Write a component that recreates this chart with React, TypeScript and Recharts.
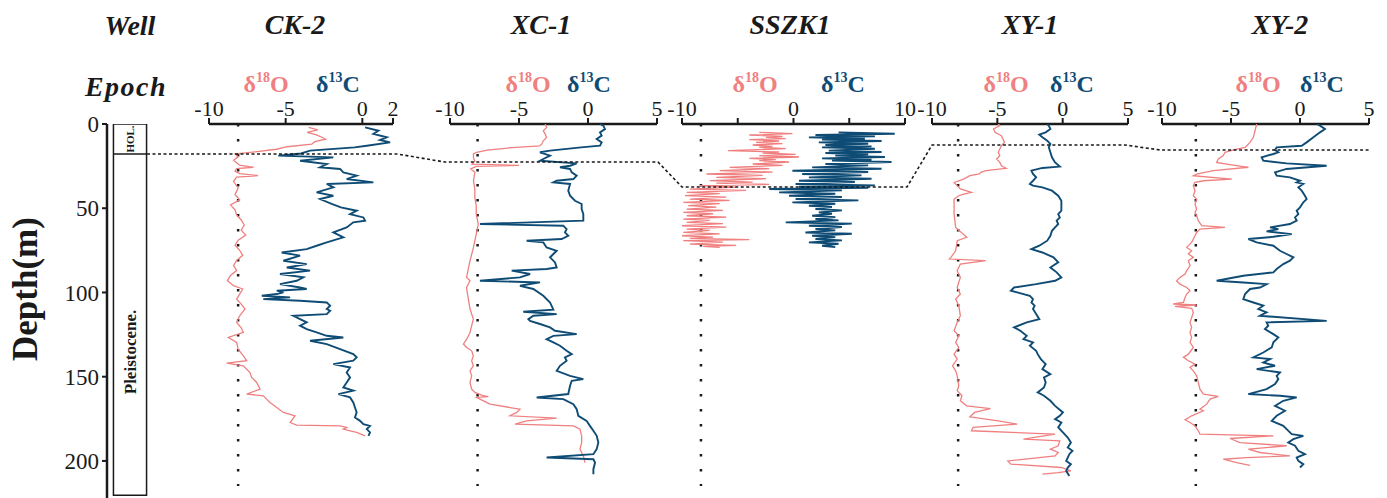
import React from "react";
import { ScatterChart, Scatter, XAxis, YAxis, ReferenceLine } from "recharts";

type Pt = [number, number]; // [depth (m), value (‰)]

const PINK = "#f08080";
const BLUE = "#0f4c75";
const INK = "#1a1a1a";
const FONT = "'Liberation Serif', 'Times New Roman', serif";

const W = 1387;
const H = 498;
const TOP = 124; // y of depth 0
const BOTTOM = 486; // y of depth MAX_DEPTH
const MAX_DEPTH = 215;
const AXIS_MAX_DEPTH = 222;

const WELLS = ["CK-2", "XC-1", "SSZK1", "XY-1", "XY-2"];
const DEPTH_TICKS = [0, 50, 100, 150, 200];
// Holocene / Pleistocene boundary depth in each well
const BOUNDARY = [17.8, 22.6, 37.4, 12.5, 15.4];
// epoch column: top, HOL./Pleistocene. contact, base (m)
const EPOCH_DEPTHS = [0, 17.8, 220.3];
// dotted reference value on the δ18O scale
const REF_O = [-8.1, -8, -8.3, -8, -7.55];

const CK2_O: Pt[] = [
  [2, -3.5], [3.5, -2.9], [5, -3.6], [6.5, -3.0], [8, -2.6], [9, -2.4], [10.5, -3.1], [12, -3.3],
  [13.5, -4.9], [15, -5.6], [16.5, -7.0], [17.8, -8.3], [19.5, -8.1], [21.5, -8.4], [23, -8.2],
  [24.5, -8.0], [25.7, -7.1], [26.5, -8.2], [28, -8.3], [29.5, -8.0], [30.7, -6.8], [31.5, -8.2],
  [34, -8.4], [38, -8.1], [42, -8.3], [45, -8.0], [48, -8.6], [51, -8.3], [54, -8.2], [57, -7.9],
  [60, -7.7], [63, -7.9], [66, -7.6], [69, -8.1], [72, -8.3], [75, -8.0], [78, -7.8], [81, -8.2],
  [84, -8.4], [87, -8.2], [90, -8.6], [93, -8.8], [96, -8.4], [98, -7.8], [101, -8.0], [104, -8.2],
  [107, -7.9], [109.9, -7.65], [113.9, -8.0], [117.8, -8.2], [121, -7.9], [123.8, -7.76],
  [126.8, -8.74], [129.7, -8.2], [133.7, -8.1], [137.7, -7.76], [140.6, -7.54], [142, -8.85],
  [143.6, -7.76], [147.6, -7.33], [150.5, -7.22], [153.5, -6.89], [157.5, -6.67], [160.4, -7.54],
  [161.4, -6.46], [163.4, -6.24], [165.4, -6.02], [168.4, -5.58], [171.3, -5.15], [173.3, -4.39],
  [177.3, -4.71], [178.9, -4.28], [179.3, -1.45], [180.2, -1.02], [181.2, -1.24], [182.2, -0.8],
  [183.2, -0.37], [185.2, 0.18],
];

const CK2_C: Pt[] = [
  [2, 0.18], [4, 1.05], [5.9, 0.72], [7.9, 1.59], [9.5, 1.15], [10.9, 1.81], [12.9, 0.29],
  [13.9, -0.5], [15.8, -3.41], [17.5, -4.0], [18.8, -5.48], [19.8, -1.89], [21.8, -4.06],
  [23.8, -2.32], [25.7, -2.76], [26.7, -1.45], [28.7, -1.24], [30.7, -0.37], [32.7, -1.02],
  [34.7, 0.72], [35.6, -2.32], [37.6, -1.89], [40.6, -2.98], [42.6, -1.89], [44.6, -2.76],
  [47.5, -2.0], [49.5, -1.4], [51.5, -0.37], [53.5, -0.8], [55.5, 0.07], [57.4, 0.18],
  [58.4, -0.59], [61.4, -1.02], [64.4, -1.89], [67.3, -1.24], [70.3, -2.32], [72.3, -2.98],
  [74.3, -3.63], [76.3, -5.26], [78.2, -4.06], [81.2, -5.15], [83.2, -3.63], [85.2, -4.93],
  [87.1, -3.41], [89.1, -5.37], [91.1, -3.85], [93.1, -4.28], [95.1, -5.37], [97.1, -4.06],
  [98, -3.63], [99, -5.58], [100, -5.15], [101, -5.58], [102, -6.56], [103, -4.71], [104, -6.46],
  [105, -4.06], [106, -2.32], [107.9, -2.1], [109.9, -2.32], [110.9, -2.1], [112.9, -2.32],
  [113.9, -4.5], [115.9, -4.06], [117.8, -3.63], [119.8, -4.06], [121.8, -3.63], [123.8, -2.98],
  [125.8, -2.32], [126.8, -1.24], [128.7, -3.41], [130.7, -2.32], [133.7, -1.45], [136.7, -0.59],
  [138.6, -0.37], [140.6, -0.59], [142.6, -1.89], [144.6, -0.8], [147.6, -1.02], [150.5, -0.8],
  [153.5, -1.02], [156.5, -1.24], [158.4, -0.59], [160.4, -1.56], [162.4, -0.8], [165.4, -0.59],
  [168.4, -0.48], [171.3, -0.37], [174.3, -0.48], [176.3, -0.15], [178.3, 0.07], [179.3, 0.5],
  [181.2, 0.29], [183.2, 0.5], [185.2, 0.4],
];

const XC1_O: Pt[] = [
  [0, -3.1], [2, -3.0], [4, -3.24], [6, -3.1], [8, -3.0], [10, -3.24], [12, -3.36], [13, -3.5],
  [14, -5.5], [15.5, -7.3], [16.8, -8.07], [17.8, -8.3], [20, -8.3], [22, -8.2], [23.8, -8.4],
  [24.6, -5.0], [25.2, -8.1], [26.7, -8.5], [28.7, -8.2], [33.7, -8.3], [38.6, -8.2], [43.6, -8.2],
  [48.5, -8.1], [53.5, -8.1], [59.4, -7.95], [65.4, -8.1], [73.3, -8.3], [81.2, -8.55],
  [87.1, -8.7], [91.1, -8.8], [93.1, -8.55], [97.1, -8.8], [98, -8.79], [104, -8.67],
  [109.9, -8.55], [115.9, -8.31], [119.8, -8.43], [123.8, -8.55], [127.8, -8.79], [130.7, -9.03],
  [132.7, -8.79], [134.7, -8.43], [137.7, -8.31], [140.6, -8.43], [143.6, -8.31], [146.6, -8.55],
  [149.6, -8.43], [153.5, -8.55], [157.5, -8.43], [159.4, -8.19], [161.4, -7.58], [161.9, -7.22],
  [162.4, -8.07], [164.4, -7.58], [166.4, -7.1], [168.4, -5.65], [169.4, -4.93], [171.3, -5.17],
  [173.3, -5.65], [174.7, -2.27], [176.3, -4.45], [178.3, -5.29], [179.3, -1.06], [181.2, -0.58],
  [185.2, -0.46], [189.2, -0.46], [193.1, -0.58], [197.1, -0.34], [201.1, -0.22],
];

const XC1_C: Pt[] = [
  [0, 0.87], [1, 1.11], [3, 1.23], [4.95, 0.87], [6.9, 0.99], [8.9, 0.63], [10.9, 0.99],
  [12.9, 0.87], [13.9, -0.5], [15.8, -2.75], [16.8, -3.48], [18.8, -2.75], [20.8, -3.24],
  [21.8, -3.48], [23.4, -0.82], [24.8, -1.3], [25.7, -2.03], [26.7, -1.3], [28.7, -1.18],
  [30.7, -0.82], [32.7, -1.06], [33.7, -2.27], [34.7, -2.51], [35.6, -1.3], [39.6, -1.43],
  [42.6, -1.3], [45.6, -0.94], [47.5, -0.46], [50.5, -0.46], [53.5, -0.34], [57.4, -0.34],
  [59.4, -7.83], [60.4, -1.79], [62.4, -1.55], [64.4, -1.67], [66.4, -1.43], [68.3, -1.91],
  [69.3, -4.45], [70.3, -3.24], [73.3, -3.0], [75.3, -2.27], [77.2, -2.51], [79.2, -2.75],
  [82.2, -2.39], [85.2, -2.27], [86.1, -3.0], [87.1, -5.53], [89.1, -4.2], [91.1, -4.93],
  [93.1, -7.83], [94.1, -3.48], [96.1, -4.93], [98, -3.96], [102, -3.24], [106, -2.75],
  [110.3, -2.51], [111.5, -4.69], [112.9, -2.27], [113.9, -3.96], [115.9, -4.32], [116.9, -4.2],
  [118.8, -3.48], [120.8, -2.75], [122.8, -2.39], [124.8, -0.82], [125.8, -2.51], [127.8, -3.0],
  [129.7, -2.51], [131.7, -2.03], [134.7, -1.55], [136.7, -1.18], [138.6, -1.67], [140.6, -1.55],
  [143.6, -2.03], [146.6, -2.27], [149.6, -1.3], [151.5, -0.34], [152.5, -1.18], [155.5, -1.3],
  [160.4, -1.43], [162.4, -3.72], [163.4, -1.79], [166.4, -1.06], [169.4, -0.82], [173.3, -0.7],
  [176.3, -0.1], [179.3, 0.14], [182.2, 0.39], [185.2, 0.63], [189.2, 0.75], [193.1, 0.63],
  [196.1, 0.39], [198.1, -3.0], [199.1, 0.39], [201.1, 0.51], [205, 0.39], [208, 0.39],
];

const SSZK_O: Pt[] = [
  [4.95, -3.07], [5.75, -0.1], [6.53, -3.96], [7.33, -0.99], [7.92, -2.47], [8.72, -0.7],
  [9.31, -3.96], [10.1, -1.29], [10.89, -3.36], [11.69, -0.99], [12.48, -3.66], [13.28, -1.88],
  [13.86, -3.07], [14.66, -0.7], [15.84, -5.88], [16.64, -1.29], [17.23, -2.77], [18.03, 0.19],
  [18.81, -3.07], [19.61, 0.49], [20.4, -3.96], [21.2, -1.59], [21.78, -3.07], [22.58, -0.4],
  [23.76, -3.66], [24.56, -0.99], [25.74, -5.73], [26.54, -2.18], [27.73, -6.62], [28.53, -1.88],
  [29.71, -7.81], [30.51, -2.77], [31.69, -6.92], [32.49, -2.47], [33.67, -7.51], [34.47, -3.66],
  [35.06, -6.92], [35.86, -2.18], [36.64, -8.4], [37.44, -5.14], [38.62, -9.29], [39.42, -4.25],
  [40.6, -9.58], [41.4, -6.62], [42.58, -9.73], [43.38, -6.03], [44.56, -9.29], [45.36, -5.73],
  [46.55, -9.88], [47.35, -6.62], [48.53, -9.44], [49.33, -6.92], [50.5, -9.58], [51.3, -6.33],
  [52.5, -9.88], [53.3, -7.21], [54.5, -9.58], [55.3, -6.03], [56.45, -9.88], [57.25, -7.51],
  [58.4, -9.58], [59.2, -6.33], [60.4, -10.18], [61.2, -6.03], [62.4, -9.58], [63.2, -7.51],
  [64.4, -9.88], [65.2, -6.62], [66.4, -10.33], [67.2, -7.21], [67.9, -9.29], [68.7, -3.96],
  [69.3, -9.88], [70.1, -6.33], [71.3, -9.29], [72.1, -5.14], [72.7, -8.1], [73.3, -6.62],
];

const SSZK_C: Pt[] = [
  [4.95, 4.04], [5.75, 9.08], [6.53, 1.97], [7.33, 7.3], [7.92, 1.38], [8.72, 6.4],
  [9.31, 2.56], [10.1, 7.9], [10.89, 2.27], [11.69, 6.7], [12.48, 2.86], [13.28, 7.0],
  [13.86, 2.56], [14.66, 7.3], [15.84, 3.16], [16.64, 7.9], [17.23, 2.86], [18.03, 6.7],
  [18.81, 3.75], [19.61, 8.2], [20.4, 2.56], [21.2, 7.0], [21.78, 3.45], [22.58, 8.79],
  [23.76, 2.86], [24.56, 6.7], [25.74, 1.67], [26.54, 7.9], [27.73, -0.1], [28.53, 6.7],
  [29.71, 0.78], [30.51, 6.1], [31.69, 1.38], [32.49, 7.0], [33.67, 0.49], [34.47, 5.5],
  [35.65, 0.19], [36.45, 7.3], [37.23, 0.49], [37.9, 6.7], [38.62, -2.18], [39.42, 4.34],
  [40.6, -1.29], [41.4, 3.75], [42.58, -0.4], [43.38, 4.34], [44.56, 0.19], [45.36, 5.82],
  [46.55, -0.1], [47.35, 3.75], [48.53, 1.38], [49.33, 3.45], [50.5, 1.97], [51.3, 4.34],
  [52.5, 2.27], [53.3, 3.45], [54.5, 1.67], [55.3, 3.75], [56.45, 1.97], [57.25, 4.04],
  [58.4, -0.7], [59.2, 5.23], [60.4, 1.38], [61.2, 4.34], [62.4, 1.97], [63.2, 3.75],
  [64.4, 1.07], [65.2, 5.23], [66.4, 1.67], [67.2, 3.75], [68.3, 1.97], [69.1, 4.34],
  [70.3, 1.38], [71.1, 4.04], [72.3, 2.56], [73.1, 3.75],
];

const XY1_O: Pt[] = [
  [0, -4.93], [1, -4.81], [3, -5.29], [4.95, -5.17], [6.9, -4.69], [8.9, -4.57], [10.9, -4.45],
  [12.9, -4.69], [14.9, -4.81], [16.8, -4.93], [18.8, -4.81], [20.8, -5.05], [22.8, -4.81],
  [24.8, -4.69], [26.3, -4.32], [27.7, -5.89], [28.7, -6.26], [29.7, -6.38], [30.7, -7.1],
  [32.7, -7.58], [34.7, -8.31], [36.6, -8.07], [38.6, -7.83], [40.6, -6.98], [41.6, -7.58],
  [42.6, -7.95], [44.6, -8.31], [53.5, -8.31], [61.4, -8.19], [67.3, -7.34], [69.3, -8.07],
  [75.3, -8.19], [79.2, -8.55], [80.2, -8.67], [81.2, -5.89], [83.2, -7.83], [87.1, -8.07],
  [91.1, -7.83], [97.1, -8.07], [101, -7.83], [104, -8.19], [107.9, -7.95], [113.9, -7.83],
  [117.8, -8.07], [122.8, -8.31], [125.8, -7.95], [129.7, -8.19], [132.7, -7.95], [136.7, -8.31],
  [139.6, -8.07], [143.6, -8.43], [146.6, -8.19], [149.6, -8.07], [155.5, -7.95], [158.4, -8.07],
  [161.4, -7.71], [164.4, -7.83], [167.4, -7.34], [169, -5.53], [171.3, -6.74], [173.9, -7.1],
  [176.3, -4.93], [178.3, -3.48], [180.2, -6.86], [182.2, -6.98], [184.2, -0.58], [187.2, -3.0],
  [188.2, -0.22], [191.1, -0.34], [193.1, -0.94], [195.1, -0.34], [197.1, -0.58], [200.1, -4.2],
  [202, -3.96], [204, -0.1], [206, 0.63], [207, -0.34], [208, -1.55],
];

const XY1_C: Pt[] = [
  [0, -1.18], [1, -1.06], [3, -0.94], [4.95, -1.3], [6.3, -1.79], [7.9, -1.55], [9.9, -1.18],
  [11.9, -0.94], [13.9, -1.06], [16.8, -0.94], [19.8, -0.82], [22.8, -0.58], [25.3, -0.22],
  [26.1, -1.55], [27.7, -2.39], [29.7, -2.27], [31.7, -2.03], [33.7, -2.27], [35.6, -2.51],
  [36.6, -2.27], [37.6, -1.55], [39.6, -0.82], [42.6, -0.34], [45.6, -0.1], [51.5, -0.1],
  [53.5, -0.34], [55.5, -0.22], [57.4, -0.46], [59.4, -0.34], [61.4, -0.58], [63.4, -0.82],
  [66.4, -0.94], [69.3, -1.18], [72.3, -1.79], [74.3, -2.39], [76.3, -1.55], [79.2, -0.7],
  [82.2, -0.34], [85.2, -0.94], [88.1, -0.46], [91.1, -0.1], [93.1, -0.58], [95.1, -2.03],
  [97.1, -3.72], [99, -3.96], [100, -3.48], [102, -2.51], [104, -2.27], [106, -2.39],
  [107.9, -2.15], [109.9, -2.27], [112.9, -2.03], [115.9, -1.79], [117.8, -2.75], [120.8, -3.72],
  [122.8, -3.24], [125.8, -2.75], [127.8, -3.0], [129.7, -2.27], [131.7, -2.51], [134.7, -2.03],
  [136.7, -1.91], [139.6, -1.67], [142.6, -1.3], [145.6, -1.55], [148.6, -0.94], [150.5, -1.43],
  [153.5, -1.3], [156.5, -1.43], [159.4, -1.91], [161.4, -1.43], [164.4, -0.94], [167.4, -0.58],
  [171.3, 0.02], [173.3, -0.22], [175.3, -0.58], [177.3, -0.1], [180.2, -0.34], [183.2, 0.02],
  [186.2, 0.39], [189.2, 0.63], [192.1, 0.39], [194.1, 0.75], [196.1, 0.51], [198.1, 0.39],
  [200.1, 0.27], [202, 0.63], [204, 0.39], [206, 0.27], [209, 0.51],
];

const XY2_O: Pt[] = [
  [0, -3.14], [4, -3.26], [7.9, -3.38], [10.9, -3.62], [12.9, -3.86], [13.9, -3.98], [15.4, -4.83],
  [16.8, -5.43], [18.8, -5.56], [20.8, -5.92], [22.8, -6.04], [23.8, -5.31], [25.7, -3.74],
  [27.7, -6.28], [29.7, -7.49], [30.7, -7.73], [32.7, -4.95], [33.7, -7.0], [34.7, -7.61],
  [36.6, -7.73], [39.6, -7.61], [42.6, -7.73], [44.6, -7.49], [47.5, -7.61], [50.5, -7.49],
  [52.5, -7.61], [54.5, -7.49], [57.4, -7.37], [60.4, -7.13], [61.4, -5.43], [62.4, -7.25],
  [64.4, -7.49], [66.4, -7.61], [68.3, -7.73], [70.3, -7.85], [73.3, -8.21], [75.3, -7.85],
  [77.2, -8.09], [79.2, -7.73], [81.2, -8.09], [84.2, -7.97], [87.1, -8.21], [89.1, -8.33],
  [91.1, -8.7], [93.1, -8.94], [95.1, -8.7], [97.1, -8.21], [99, -7.97], [101, -8.21],
  [103, -8.33], [106, -8.45], [106.9, -9.18], [107.5, -7.49], [108.3, -9.06], [109.5, -7.85],
  [111.9, -7.73], [114.9, -7.85], [117.8, -7.97], [120.8, -7.85], [123.8, -7.97], [126.8, -7.85],
  [129.7, -7.97], [132.7, -7.73], [136.7, -8.09], [138.6, -8.45], [140.6, -8.09], [142.6, -7.61],
  [144.6, -7.97], [146.6, -7.73], [149.6, -7.49], [153.5, -7.37], [157.5, -7.25], [160.4, -7.0],
  [161.8, -5.92], [163.4, -6.52], [166.4, -6.76], [169.4, -7.25], [170.3, -7.0], [173.3, -7.85],
  [175.7, -8.33], [177.3, -7.97], [179.3, -7.61], [182.2, -7.37], [184.2, -7.25], [185.2, -1.93],
  [186.8, -5.07], [189.2, -4.35], [191.1, -0.97], [193.1, -3.74], [195.1, -2.9], [197.1, -0.73],
  [198.1, -3.86], [199.1, -5.56], [201.1, -4.59], [202.7, -3.62],
];

const XY2_C: Pt[] = [
  [0, 1.21], [1, 1.45], [3, 1.81], [4.95, 1.45], [7.9, 0.97], [10.9, 0.48], [12.9, 0.12],
  [13.9, -1.69], [15.4, -1.81], [16.8, -1.57], [17.8, -1.93], [19.8, -2.78], [21.8, -2.66],
  [23.4, -0.97], [24.8, 1.93], [26.7, -0.97], [28.7, -1.81], [30.7, -1.69], [31.7, -0.73],
  [33.7, 0.0], [34.7, -0.24], [35.6, 0.24], [37.6, -0.12], [39.6, 0.12], [42.6, 0.36],
  [44.6, 0.48], [46.5, 0.24], [49.5, 0.0], [51.5, -0.24], [53.5, -0.12], [55.5, -0.36],
  [57.4, -0.24], [59.4, -0.73], [61.4, -2.17], [62.4, -1.57], [63.8, -2.42], [65.4, -0.6],
  [67, -1.93], [68.3, -3.74], [70.3, -3.14], [72.3, -1.93], [75.3, -1.45], [77.2, -0.97],
  [79.2, -0.48], [81.2, -0.73], [83.2, -1.21], [86.1, -1.69], [88.1, -1.93], [90.1, -4.11],
  [93.1, -6.04], [94.1, -4.11], [95.1, -2.42], [97.1, -2.9], [98, -3.62], [101, -3.98],
  [104, -4.11], [106, -3.38], [107.9, -2.66], [109.9, -3.02], [111.9, -2.42], [113.9, -2.9],
  [116.9, 1.93], [117.8, -2.42], [119.8, -2.3], [121.8, -2.54], [124.8, -1.93], [126.8, -1.57],
  [129.7, -1.93], [132.7, -2.05], [135.7, -2.66], [138.6, -3.38], [139.6, -2.17], [141.6, -2.66],
  [143.6, -1.81], [145.6, -3.14], [147.6, -1.45], [149.6, -1.69], [151.5, -1.57], [154.5, -1.81],
  [157.5, -2.42], [160.4, -3.74], [161.4, -1.45], [162.4, -0.24], [164.4, -1.21], [167.4, -1.81],
  [170.3, -1.09], [173.3, -1.69], [176.3, -2.05], [179.3, -1.21], [181.2, -0.97], [184.2, -0.6],
  [185.2, 0.24], [187.2, -0.48], [189.2, -0.85], [191.1, -0.36], [194.1, -0.12], [196.1, 0.36],
  [198.1, -0.24], [200.1, -0.12], [202, 0.24], [204, 0.0],
];

const SERIES_O = [CK2_O, XC1_O, SSZK_O, XY1_O, XY2_O];
const SERIES_C = [CK2_C, XC1_C, SSZK_C, XY1_C, XY2_C];

// layout of each well column (page pixels)
const PANELS = [
  { left: 209, right: 393, domain: [-10, 2], ticks: [-10, -5, 0, 2], from: 147, to: 397, nameX: 295, oX: 266, cX: 338 },
  { left: 450, right: 657, domain: [-10, 5], ticks: [-10, -5, 0, 5], from: 445, to: 658, nameX: 541, oX: 528, cX: 589 },
  { left: 682, right: 905, domain: [-10, 10], ticks: [-10, -5, 0, 5, 10], from: 682, to: 907, nameX: 790, oX: 755, cX: 843 },
  { left: 932, right: 1128, domain: [-10, 5], ticks: [-10, -5, 0, 5], from: 932, to: 1125, nameX: 1030, oX: 1006, cX: 1072 },
  { left: 1162, right: 1369, domain: [-10, 5], ticks: [-10, -5, 0, 5], from: 1160, to: 1370, nameX: 1280, oX: 1258, cX: 1322 },
];

const toPts = (arr: Pt[]) => arr.map(([d, v]) => ({ d, v }));
const noDot = () => <g />;
const tickStyle = { fontSize: 22, fill: INK, fontFamily: FONT };

function Panel({ i }: { i: number }) {
  const p = PANELS[i];
  const pad = 24;
  const fmt = (v: number) => (i === 2 && Math.abs(v) === 5 ? "" : String(v));
  return (
    <div style={{ position: "absolute", left: p.left - pad, top: 0 }}>
      <ScatterChart
        width={p.right - p.left + 2 * pad}
        height={H}
        margin={{ top: TOP - 30, bottom: H - BOTTOM, left: pad, right: pad }}
      >
        <XAxis
          type="number"
          dataKey="v"
          orientation="top"
          domain={p.domain}
          ticks={p.ticks}
          interval={0}
          allowDataOverflow
          height={30}
          tickSize={6}
          tickFormatter={fmt}
          tick={tickStyle}
          axisLine={{ stroke: INK, strokeWidth: 2.5 }}
          tickLine={{ stroke: INK, strokeWidth: 2 }}
        />
        <YAxis type="number" dataKey="d" domain={[0, MAX_DEPTH]} reversed hide width={0} allowDataOverflow />
        <ReferenceLine x={REF_O[i]} stroke={INK} strokeWidth={2.5} strokeDasharray="2.5 12.5" />
        <Scatter
          data={toPts(SERIES_O[i])}
          fill={PINK}
          line={{ stroke: PINK, strokeWidth: 1.3 }}
          shape={noDot}
          isAnimationActive={false}
        />
        <Scatter
          data={toPts(SERIES_C[i])}
          fill={BLUE}
          line={{ stroke: BLUE, strokeWidth: 1.9 }}
          shape={noDot}
          isAnimationActive={false}
        />
      </ScatterChart>
    </div>
  );
}

// depth axis plus the epoch column drawn from the epoch depths
function DepthAxis() {
  const [top, contact, base] = EPOCH_DEPTHS;
  const x0 = 0.15;
  const x1 = 0.92;
  const outline = [
    { x: x0, d: top }, { x: x1, d: top }, { x: x1, d: base }, { x: x0, d: base }, { x: x0, d: top },
  ];
  const divider = [{ x: x0, d: contact }, { x: x1, d: contact }];
  return (
    <div style={{ position: "absolute", left: 0, top: 0 }}>
      <ScatterChart width={150} height={H} margin={{ top: TOP, bottom: 0, left: 0, right: 0 }}>
        <XAxis type="number" dataKey="x" hide domain={[0, 1]} height={0} allowDataOverflow />
        <YAxis
          type="number"
          dataKey="d"
          domain={[0, AXIS_MAX_DEPTH]}
          ticks={DEPTH_TICKS}
          interval={0}
          reversed
          allowDataOverflow
          width={107}
          tickSize={5}
          tickMargin={3}
          tick={{ ...tickStyle, fontSize: 23 }}
          axisLine={{ stroke: INK, strokeWidth: 2.5 }}
          tickLine={{ stroke: INK, strokeWidth: 2 }}
        />
        <Scatter data={outline} fill={INK} line={{ stroke: INK, strokeWidth: 1.5 }} shape={noDot} isAnimationActive={false} />
        <Scatter data={divider} fill={INK} line={{ stroke: INK, strokeWidth: 1.5 }} shape={noDot} isAnimationActive={false} />
      </ScatterChart>
    </div>
  );
}

function BoundaryLine() {
  const pts = PANELS.flatMap((p, i) => [
    { x: p.from, d: BOUNDARY[i] },
    { x: p.to, d: BOUNDARY[i] },
  ]);
  return (
    <div style={{ position: "absolute", left: 0, top: 0, pointerEvents: "none" }}>
      <ScatterChart width={W} height={H} margin={{ top: TOP, bottom: H - BOTTOM, left: 0, right: 0 }}>
        <XAxis type="number" dataKey="x" hide domain={[0, W]} height={0} />
        <YAxis type="number" dataKey="d" hide domain={[0, MAX_DEPTH]} reversed width={0} />
        <Scatter
          data={pts}
          fill={INK}
          line={{ stroke: INK, strokeWidth: 1.6, strokeDasharray: "3 2.5" }}
          shape={noDot}
          isAnimationActive={false}
        />
      </ScatterChart>
    </div>
  );
}

function Annotations() {
  const head = { fontFamily: FONT, fontSize: 28, fontWeight: 700, fontStyle: "italic", fill: INK } as const;
  const iso = { fontFamily: FONT, fontSize: 24, fontWeight: 700 } as const;
  return (
    <svg width={W} height={H} style={{ position: "absolute", left: 0, top: 0 }}>
      <text x={130} y={35} textAnchor="middle" {...head}>Well</text>
      <text x={126} y={96} textAnchor="middle" letterSpacing={1.5} {...head}>Epoch</text>
      {WELLS.map((w, i) => (
        <text key={w} x={PANELS[i].nameX} y={34} textAnchor="middle" {...head}>{w}</text>
      ))}
      {PANELS.map((p, i) => (
        <g key={i}>
          <text x={p.oX} y={92} textAnchor="middle" fill={PINK} {...iso}>
            δ<tspan fontSize={14} dy={-10}>18</tspan><tspan dy={10}>O</tspan>
          </text>
          <text x={p.cX} y={92} textAnchor="middle" fill={BLUE} {...iso}>
            δ<tspan fontSize={14} dy={-10}>13</tspan><tspan dy={10}>C</tspan>
          </text>
        </g>
      ))}
      <text transform="translate(37,289) rotate(-90)" textAnchor="middle" fontFamily={FONT} fontSize={35} fontWeight={700} fill={INK}>
        Depth(m)
      </text>
      <text transform="translate(134,139) rotate(-90)" textAnchor="middle" fontFamily={FONT} fontSize={11} fontWeight={700} fill={INK}>
        HOL.
      </text>
      <text transform="translate(135.5,352) rotate(-90)" textAnchor="middle" fontFamily={FONT} fontSize={17} fontWeight={700} fill={INK}>
        Pleistocene.
      </text>
    </svg>
  );
}

export default function App() {
  return (
    <div style={{ position: "relative", width: W, height: H, background: "#fff", overflow: "hidden" }}>
      <style>{"body{margin:0}"}</style>
      <Annotations />
      <DepthAxis />
      {PANELS.map((_, i) => (
        <Panel key={i} i={i} />
      ))}
      <BoundaryLine />
    </div>
  );
}
